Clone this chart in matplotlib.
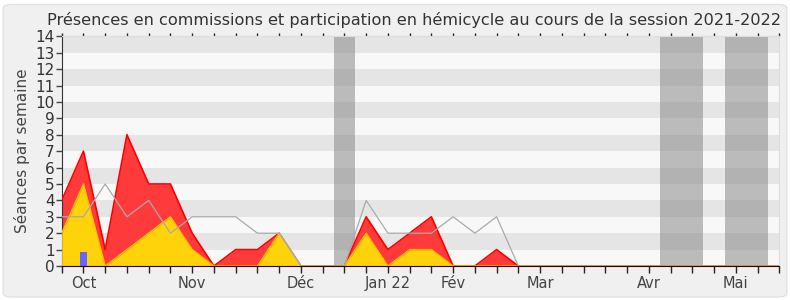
import matplotlib
matplotlib.use("Agg")
import matplotlib.pyplot as plt
from matplotlib.patches import FancyBboxPatch
import numpy as np

weeks = list(range(34))
presence_total = [4, 7, 1, 8, 5, 5, 2, 0, 1, 1, 2, 0, 0, 0, 3, 1, 2, 3, 0, 0, 1, 0,
                  0, 0, 0, 0, 0, 0, 0, 0, 0, 0, 0, 0]
presence_commission = [2, 5, 0, 1, 2, 3, 1, 0, 0, 0, 2, 0, 0, 0, 2, 0, 1, 1, 0, 0, 0, 0,
                       0, 0, 0, 0, 0, 0, 0, 0, 0, 0, 0, 0]
median_line = [3, 3, 5, 3, 4, 2, 3, 3, 3, 2, 2, 0, 0, 0, 4, 2, 2, 2, 3, 2, 3, 0,
               0, 0, 0, 0, 0, 0, 0, 0, 0, 0, 0, 0]
bar_weeks = [1]
bar_values = [0.87]
holidays = [(12.5, 13.5), (27.5, 29.5), (30.5, 32.5)]
month_ticks = [1, 6, 11, 15, 18, 22, 27, 31]
month_labels = ["Oct", "Nov", "Déc", "Jan 22", "Fév", "Mar", "Avr", "Mai"]
title = "Présences en commissions et participation en hémicycle au cours de la session 2021-2022"
ylabel = "Séances par semaine"

fig = plt.figure(figsize=(7.9, 3.0), dpi=100)
fig.patch.set_facecolor("white")
bg = FancyBboxPatch((0.004, 0.01), 0.992, 0.975, boxstyle="round,pad=0,rounding_size=0.012",
                    transform=fig.transFigure, facecolor="#f0f0f0", edgecolor="#e2e2e2",
                    linewidth=1.0, zorder=-10)
fig.patches.append(bg)

ax = fig.add_axes([0.0781, 0.1133, 0.9084, 0.7657])
ax.set_xlim(0, 33)
ax.set_ylim(0, 14)
ax.set_facecolor("#f8f8f8")
for k in range(1, 14, 2):
    ax.axhspan(k, k + 1, color="#e5e5e5", zorder=0, linewidth=0)
for a, b in holidays:
    ax.axvspan(a, b, color="#808080", alpha=0.5, zorder=1, linewidth=0)

ax.fill_between(weeks, presence_total, 0, color="#ff3a3a", zorder=2, linewidth=0)
ax.plot(weeks, presence_total, color="#ff0000", linewidth=1.2, zorder=3)
ax.fill_between(weeks, presence_commission, 0, color="#ffd30a", zorder=4, linewidth=0)
ax.plot(weeks, presence_commission, color="#ffc000", linewidth=1.0, zorder=5)
ax.plot(weeks, median_line, color="#aaaaaa", linewidth=0.9, zorder=6)
ax.bar(bar_weeks, bar_values, width=0.32, color="#6666ff", zorder=7)

ax.set_yticks(range(0, 15))
ax.tick_params(axis="y", labelsize=11, length=4, width=1, color="#444444", pad=1,
               labelcolor="#333333")
ax.set_xticks(weeks, minor=True)
ax.set_xticks(month_ticks)
ax.set_xticklabels(month_labels)
ax.tick_params(axis="x", which="both", length=5, width=1, color="#222222",
               labelsize=10.5, labelcolor="#444444", pad=2, direction="out")

top = ax.secondary_xaxis("top")
top.set_xticks(weeks)
top.tick_params(axis="x", length=2, width=1, color="#222222", labeltop=False,
                direction="out")
top.spines["top"].set_color("#dddddd")

for side in ["top", "right"]:
    ax.spines[side].set_color("#dddddd")
ax.spines["left"].set_color("#333333")
ax.spines["bottom"].set_color("#330000")
ax.spines["bottom"].set_zorder(8)

ax.set_ylabel(ylabel, fontsize=11, color="#444444", labelpad=4)
fig.text(0.524, 0.915, title, fontsize=11.6, color="#333333", ha="center",
         va="baseline")

fig.savefig("out.png", dpi=100, facecolor=fig.get_facecolor())
